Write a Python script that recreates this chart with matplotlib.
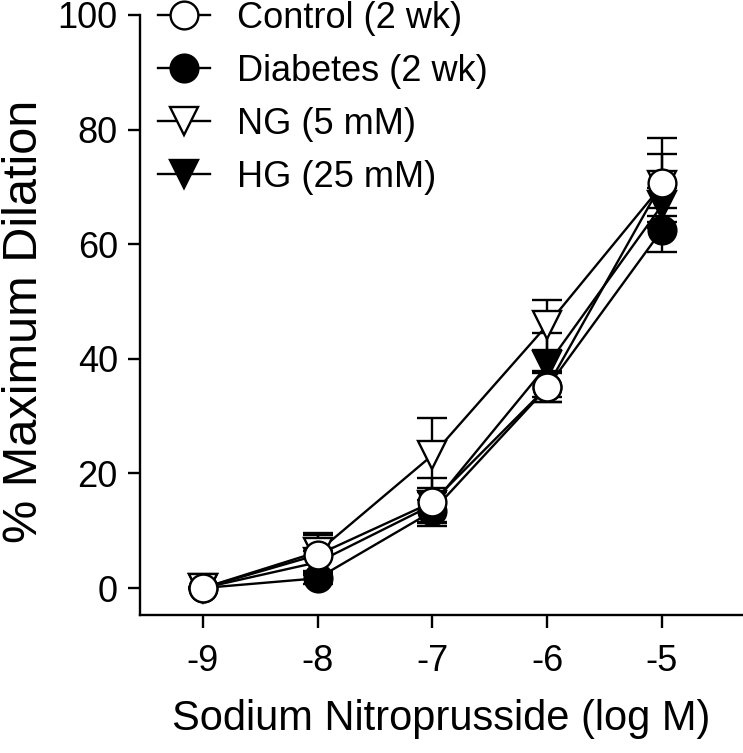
import numpy as np
import matplotlib
matplotlib.use('Agg')
import matplotlib.pyplot as plt
from matplotlib.lines import Line2D

plt.rcParams['font.family'] = ['Liberation Sans', 'DejaVu Sans']
plt.rcParams['axes.unicode_minus'] = False

log_conc = [-9, -8, -7, -6, -5]

control = [0, 5.8, 15.0, 35.1, 70.7]
control_err = [0, 3.5, 4.2, 2.7, 7.9]
diabetes = [0, 1.7, 13.4, 35.0, 62.5]
diabetes_err = [0, 1.0, 2.0, 2.5, 3.9]
ng = [0, 6.3, 23.2, 45.9, 70.3]
ng_err = [0, 3.3, 6.5, 4.4, 5.4]
hg = [0, 4.5, 14.5, 38.9, 66.8]
hg_err = [0, 2.0, 3.0, 5.6, 3.0]

labels = ['Control (2 wk)', 'Diabetes (2 wk)', 'NG (5 mM)', 'HG (25 mM)']

xticks = [-9, -8, -7, -6, -5]
yticks = [0, 20, 40, 60, 80, 100]

fig = plt.figure(figsize=(7.43, 7.53), dpi=100)
ax = fig.add_axes([140 / 743, 1 - 615 / 753, 603 / 743, 600 / 753])

# series: (values, errors, marker, face colour, label)
series = [
    (diabetes, diabetes_err, 'o', 'black', labels[1]),
    (hg, hg_err, 'v', 'black', labels[3]),
    (ng, ng_err, 'v', 'white', labels[2]),
    (control, control_err, 'o', 'white', labels[0]),
]

lw = 1.7
for vals, err, mk, fc, lab in series:
    ax.errorbar(log_conc, vals, yerr=err, fmt='none', ecolor='black',
                elinewidth=lw, capsize=10.5, capthick=lw, zorder=1)
    ax.plot(log_conc, vals, '-', color='black', linewidth=lw, zorder=2)

# markers on top of every line, control last
z = 3
for vals, err, mk, fc, lab in series:
    ax.plot(log_conc, vals, linestyle='none', marker=mk, markersize=20,
            markerfacecolor=fc, markeredgecolor='black', markeredgewidth=lw,
            zorder=z)
    z += 1

ax.set_xlim(-9.549, -4.294)
ax.set_ylim(-4.71, 100)
ax.set_xticks(xticks)
ax.set_yticks(yticks)
ax.tick_params(labelsize=26, width=lw, length=9, direction='out')
ax.tick_params(axis='x', pad=12)
ax.tick_params(axis='y', pad=7)
for s in ['top', 'right']:
    ax.spines[s].set_visible(False)
for s in ['left', 'bottom']:
    ax.spines[s].set_linewidth(lw)

ax.set_xlabel('Sodium Nitroprusside (log M)', fontsize=30)
ax.set_ylabel('% Maximum Dilation', fontsize=35)
ax.xaxis.set_label_coords(0.5, -0.14)
ax.yaxis.set_label_coords(-0.155, 0.49)

handles = []
for mk, fc in [('o', 'white'), ('o', 'black'), ('v', 'white'), ('v', 'black')]:
    handles.append(Line2D([], [], color='black', linewidth=lw, marker=mk,
                          markersize=20, markerfacecolor=fc,
                          markeredgecolor='black', markeredgewidth=lw))
fig.legend(handles, labels, loc='upper left', bbox_to_anchor=(158 / 743, 0.999),
           frameon=False, fontsize=26, borderpad=0, borderaxespad=0,
           handlelength=1.45, handletextpad=0.75, labelspacing=0.5)

plt.savefig('out.png', dpi=100)
